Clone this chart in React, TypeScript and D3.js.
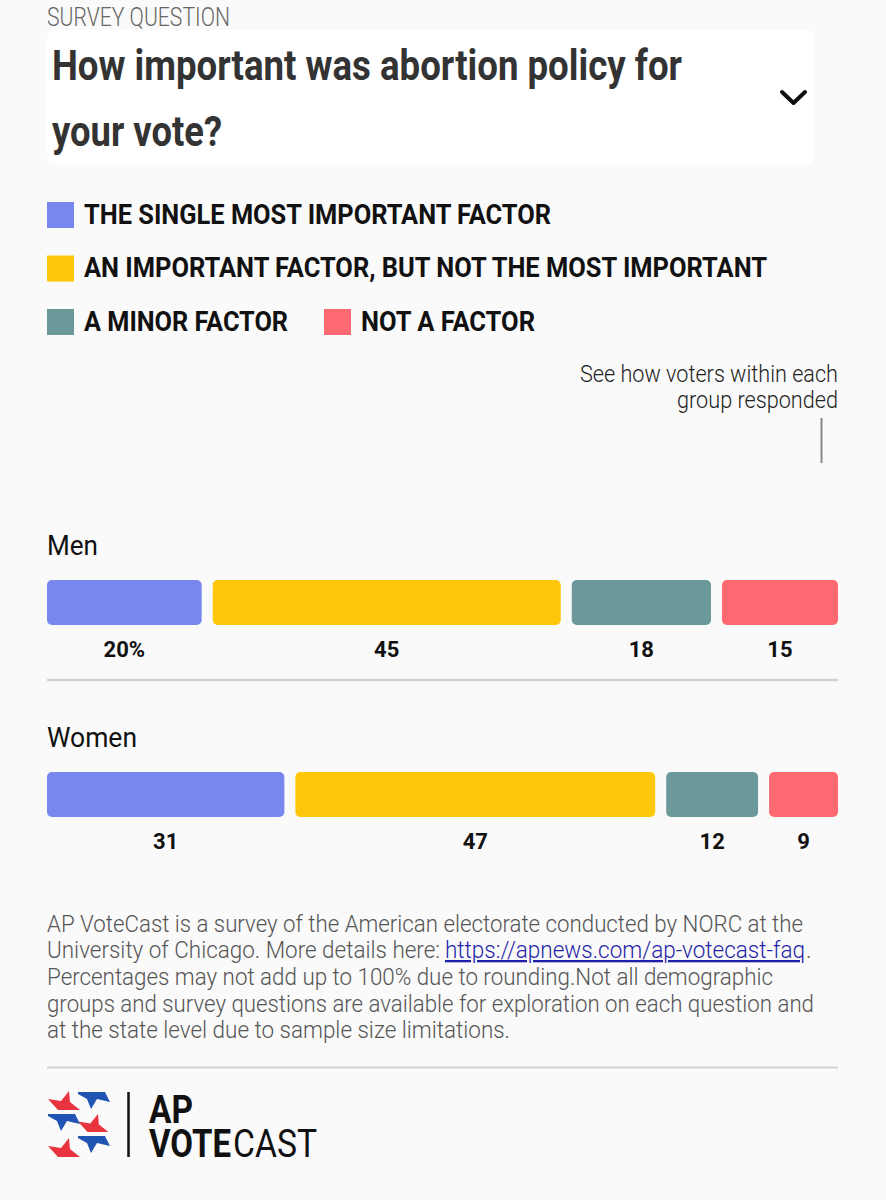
import * as d3 from "d3";

const W = 886;
const H = 1200;

const categories = [
  "THE SINGLE MOST IMPORTANT FACTOR",
  "AN IMPORTANT FACTOR, BUT NOT THE MOST IMPORTANT",
  "A MINOR FACTOR",
  "NOT A FACTOR",
];
const groups = ["Men", "Women"];
const menValues = [20, 45, 18, 15];
const womenValues = [31, 47, 12, 9];
const seriesByGroup = [menValues, womenValues];

const COLORS = ["#7886F0", "#FEC70C", "#6B999A", "#FF6A72"];
const FONT = "Roboto, 'Liberation Sans', sans-serif";

const footLines = [
  "AP VoteCast is a survey of the American electorate conducted by NORC at the",
  "University of Chicago. More details here: ",
  "Percentages may not add up to 100% due to rounding.Not all demographic",
  "groups and survey questions are available for exploration on each question and",
  "at the state level due to sample size limitations.",
];
const footLink = "https://apnews.com/ap-votecast-faq";

// legend layout: [x of swatch, row, text width]
const legendPos = [
  { x: 47, row: 0, w: 467 },
  { x: 47, row: 1, w: 683 },
  { x: 47, row: 2, w: 204 },
  { x: 324, row: 2, w: 174 },
];

function Stars() {
  // rough reproduction of the AP VoteCast mark
  const red = "M0,8 L13,10 L21,0 L22,11 L32,19 L10,19 Z";
  const blue = "M0,0 L27,0 L32,10 L19,7 L13,17 L9,7 L0,2 Z";
  return (
    <g>
      <path d={red} transform="translate(48,1091)" fill="#E8343F" />
      <path d={red} transform="translate(78,1114) scale(0.95)" fill="#E8343F" />
      <path d={red} transform="translate(48,1138)" fill="#E8343F" />
      <path d={blue} transform="translate(78,1092)" fill="#2155B4" />
      <path d={blue} transform="translate(48,1114)" fill="#2155B4" />
      <path d={blue} transform="translate(78,1136)" fill="#2155B4" />
    </g>
  );
}

export default function App() {
  const left = 47;
  const right = 838;
  const gap = 11;
  const rowStep = 192;

  return (
    <div style={{ position: "absolute", left: 0, top: 0, width: W, height: H, background: "#FAFAFA" }}>
      <svg width={W} height={H} style={{ display: "block", fontFamily: FONT }}>
        <rect x={0} y={0} width={W} height={H} fill="#FAFAFA" />

        {/* header */}
        <text x={47} y={26} fontSize={25} fontWeight={300} fill="#666" textLength={183} lengthAdjust="spacingAndGlyphs">
          SURVEY QUESTION
        </text>
        <rect x={47} y={30} width={768} height={134} rx={8} fill="#fff" />
        <text x={52} y={80} fontSize={42} fontWeight={700} fill="#333" textLength={630} lengthAdjust="spacingAndGlyphs">
          How important was abortion policy for
        </text>
        <text x={52} y={146} fontSize={42} fontWeight={700} fill="#333" textLength={170} lengthAdjust="spacingAndGlyphs">
          your vote?
        </text>
        <path d="M782,92 L793.5,103 L805,92" fill="none" stroke="#111" strokeWidth={4} strokeLinecap="round" strokeLinejoin="round" />

        {/* legend */}
        {categories.map((c, i) => {
          const p = legendPos[i];
          const y0 = 202 + p.row * 53.5;
          return (
            <g key={c}>
              <rect x={p.x} y={y0} width={27} height={26} fill={COLORS[i]} />
              <text
                x={p.x + 37}
                y={y0 + 21.5}
                fontSize={27}
                fontWeight={700}
                fill="#111"
                textLength={p.w}
                lengthAdjust="spacingAndGlyphs"
              >
                {c}
              </text>
            </g>
          );
        })}

        {/* annotation */}
        <text x={838} y={382} textAnchor="end" fontSize={23} fontWeight={300} fill="#222" textLength={258} lengthAdjust="spacingAndGlyphs">
          See how voters within each
        </text>
        <text x={838} y={408} textAnchor="end" fontSize={23} fontWeight={300} fill="#222" textLength={161} lengthAdjust="spacingAndGlyphs">
          group responded
        </text>
        <line x1={821.5} x2={821.5} y1={418} y2={463} stroke="#888" strokeWidth={2} />

        {/* groups */}
        {groups.map((g, gi) => {
          const vals = seriesByGroup[gi];
          const n = vals.length;
          const x = d3
            .scaleLinear()
            .domain([0, d3.sum(vals)])
            .range([0, right - left - gap * (n - 1)]);
          const starts = [0, ...Array.from(d3.cumsum(vals))];
          const top = 580 + gi * rowStep;
          return (
            <g key={g}>
              <text x={left} y={555 + gi * rowStep} fontSize={27} fontWeight={400} fill="#111" textLength={gi === 0 ? 51 : 90} lengthAdjust="spacingAndGlyphs">
                {g}
              </text>
              {vals.map((v, i) => {
                const bx = left + x(starts[i]) + gap * i;
                const bw = x(v);
                return (
                  <g key={i}>
                    <rect x={bx} y={top} width={bw} height={45} rx={5} fill={COLORS[i]} />
                    <text x={bx + bw / 2} y={top + 77} textAnchor="middle" fontSize={22} fontWeight={700} fill="#111">
                      {gi === 0 && i === 0 ? `${v}%` : v}
                    </text>
                  </g>
                );
              })}
              {gi < groups.length - 1 && (
                <line x1={left} x2={right} y1={top + 100} y2={top + 100} stroke="#D2D2D2" strokeWidth={2.5} />
              )}
            </g>
          );
        })}

        {/* footnote */}
        <g fontSize={23} fontWeight={300} fill="#555">
          <text x={47} y={932} textLength={756} lengthAdjust="spacingAndGlyphs">{footLines[0]}</text>
          <text x={47} y={958} textLength={393} lengthAdjust="spacingAndGlyphs">{footLines[1]}</text>
          <text x={445} y={958} fill="#1F1FA8" textDecoration="underline" textLength={360} lengthAdjust="spacingAndGlyphs">
            {footLink}
          </text>
          <text x={806} y={958}>.</text>
          <text x={47} y={985} textLength={726} lengthAdjust="spacingAndGlyphs">{footLines[2]}</text>
          <text x={47} y={1012} textLength={767} lengthAdjust="spacingAndGlyphs">{footLines[3]}</text>
          <text x={47} y={1038} textLength={463} lengthAdjust="spacingAndGlyphs">{footLines[4]}</text>
        </g>

        <line x1={47} x2={838} y1={1067.5} y2={1067.5} stroke="#D2D2D2" strokeWidth={2} />

        {/* logo */}
        <Stars />
        <line x1={128.5} x2={128.5} y1={1092} y2={1157} stroke="#111" strokeWidth={2.5} />
        <text x={149} y={1123} fontSize={39} fontWeight={700} fill="#111" textLength={44} lengthAdjust="spacingAndGlyphs">AP</text>
        <text x={149} y={1157} fontSize={38} fontWeight={700} fill="#111" textLength={82} lengthAdjust="spacingAndGlyphs">VOTE</text>
        <text x={233} y={1157} fontSize={38} fontWeight={400} fill="#111" textLength={84} lengthAdjust="spacingAndGlyphs">CAST</text>
      </svg>
    </div>
  );
}
